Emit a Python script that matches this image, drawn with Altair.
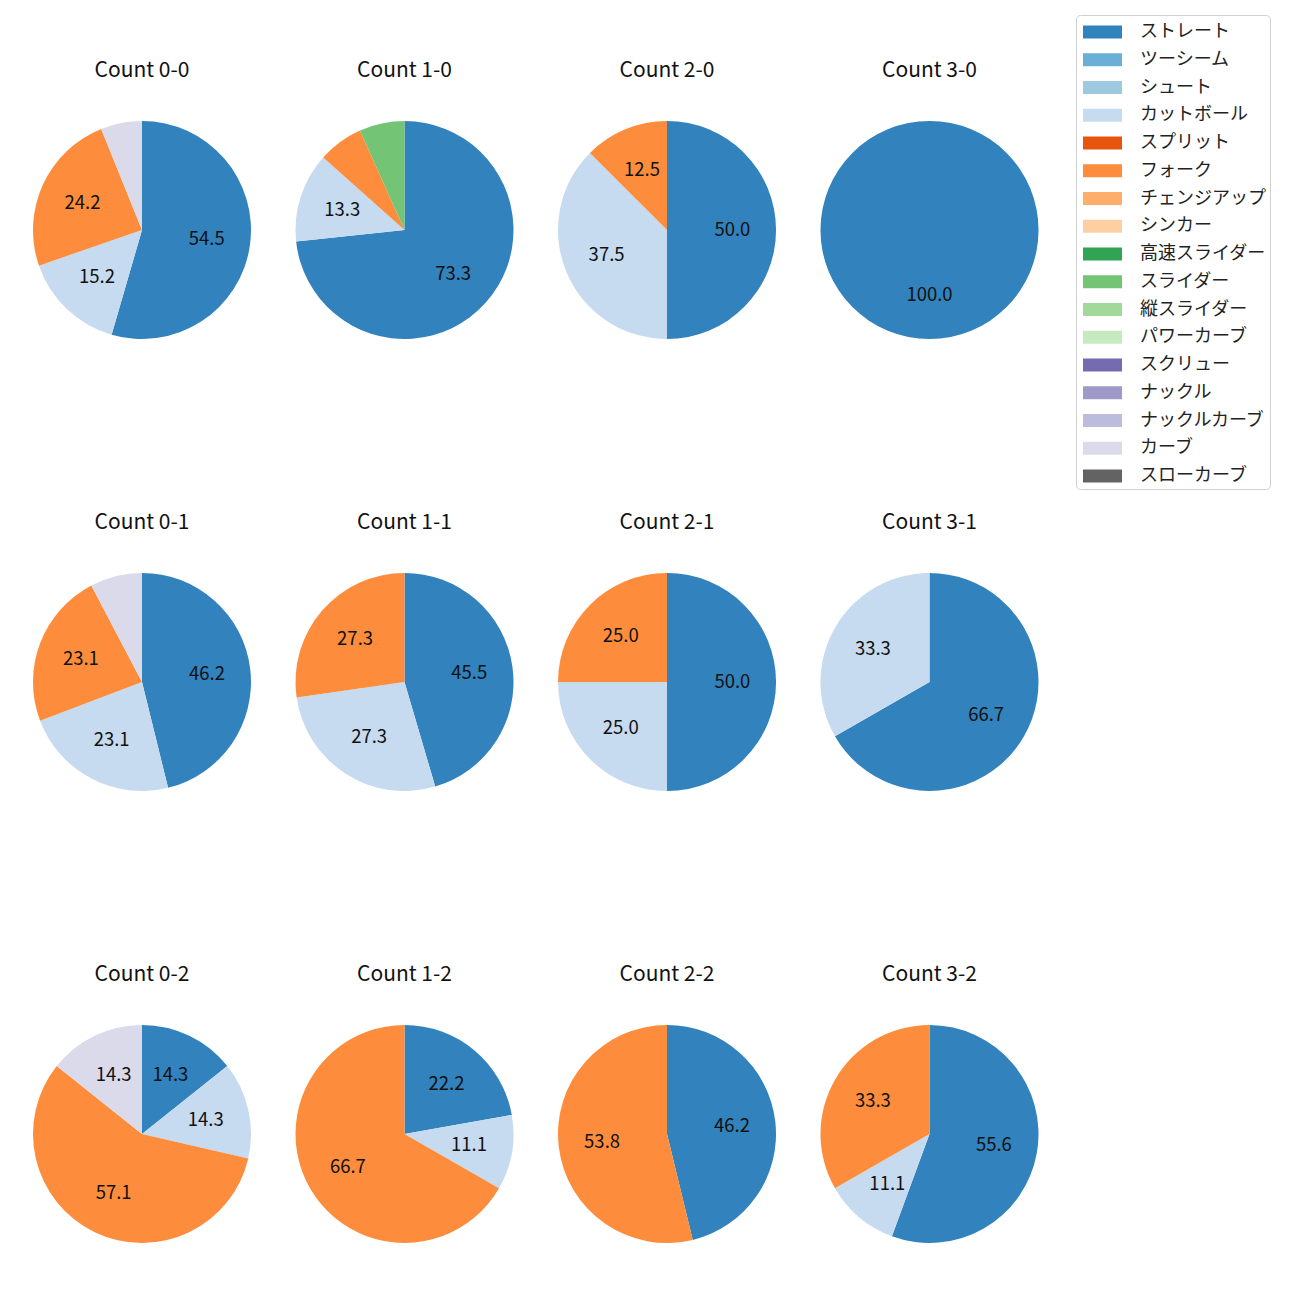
import altair as alt
import pandas as pd

pitch_types = ["ストレート", "ツーシーム", "シュート", "カットボール", "スプリット", "フォーク",
               "チェンジアップ", "シンカー", "高速スライダー", "スライダー", "縦スライダー",
               "パワーカーブ", "スクリュー", "ナックル", "ナックルカーブ", "カーブ", "スローカーブ"]
colors = ["#3182bd", "#6baed6", "#9ecae1", "#c6dbef", "#e6550d", "#fd8d3c", "#fdae6b",
          "#fdd0a2", "#31a354", "#74c476", "#a1d99b", "#c7e9c0", "#756bb1", "#9e9ac8",
          "#bcbddc", "#dadaeb", "#636363"]

counts = ["0-0", "1-0", "2-0", "3-0",
          "0-1", "1-1", "2-1", "3-1",
          "0-2", "1-2", "2-2", "3-2"]

pie_pitches = {
    "0-0": ["ストレート", "カットボール", "フォーク", "カーブ"],
    "1-0": ["ストレート", "カットボール", "フォーク", "スライダー"],
    "2-0": ["ストレート", "カットボール", "フォーク"],
    "3-0": ["ストレート"],
    "0-1": ["ストレート", "カットボール", "フォーク", "カーブ"],
    "1-1": ["ストレート", "カットボール", "フォーク"],
    "2-1": ["ストレート", "カットボール", "フォーク"],
    "3-1": ["ストレート", "カットボール"],
    "0-2": ["ストレート", "カットボール", "フォーク", "カーブ"],
    "1-2": ["ストレート", "カットボール", "フォーク"],
    "2-2": ["ストレート", "フォーク"],
    "3-2": ["ストレート", "カットボール", "フォーク"],
}
pie_values = {
    "0-0": [54.5, 15.2, 24.2, 6.1],
    "1-0": [73.3, 13.3, 6.7, 6.7],
    "2-0": [50.0, 37.5, 12.5],
    "3-0": [100.0],
    "0-1": [46.2, 23.1, 23.1, 7.7],
    "1-1": [45.5, 27.3, 27.3],
    "2-1": [50.0, 25.0, 25.0],
    "3-1": [66.7, 33.3],
    "0-2": [14.3, 14.3, 57.1, 14.3],
    "1-2": [22.2, 11.1, 66.7],
    "2-2": [46.2, 53.8],
    "3-2": [55.6, 11.1, 33.3],
}

FONT = "Noto Sans CJK JP"
R = 109
legend_symbol = "M-1.5,-0.5 L1.5,-0.5 L1.5,0.5 L-1.5,0.5 Z"


def make_pie(c, first):
    df = pd.DataFrame({
        "pitch": pie_pitches[c],
        "pct": pie_values[c],
        "order": [pitch_types.index(p) for p in pie_pitches[c]],
    })
    if first:
        legend = alt.Legend(
            title=None, orient="right", offset=36,
            symbolType=legend_symbol, symbolSize=676, symbolStrokeWidth=0,
            symbolOffset=9.5,
            labelFont=FONT, labelFontSize=18, labelColor="#222222",
            rowPadding=5.75, padding=4, strokeColor="#d0d0d0",
            fillColor="white", cornerRadius=4, labelOffset=24.5,
        )
    else:
        legend = None
    color = alt.Color("pitch:N",
                      scale=alt.Scale(domain=pitch_types, range=colors),
                      legend=legend)
    base = alt.Chart(df).encode(
        theta=alt.Theta("pct:Q", stack=True),
        order=alt.Order("order:Q", sort="ascending"),
    )
    arc = base.mark_arc(outerRadius=R, strokeWidth=0).encode(color=color)
    text = base.transform_calculate(
        label="datum.pct >= 10 ? format(datum.pct, '.1f') : ''"
    ).mark_text(radius=R * 0.6, font=FONT, fontSize=18.5, color="#111111").encode(
        text="label:N"
    )
    return alt.layer(arc, text).properties(
        width=220, height=220,
        title=alt.TitleParams(f"Count {c}", font=FONT, fontSize=21,
                              fontWeight="normal", color="#111111", offset=39),
    )


rows = []
for r in range(3):
    row = [make_pie(counts[r * 4 + k], r == 0 and k == 0) for k in range(4)]
    rows.append(alt.hconcat(*row, spacing=42.5))

grid = alt.vconcat(*rows, spacing=172)

spacer = alt.Chart(pd.DataFrame({"v": [0]})).mark_point(opacity=0).encode(
    x=alt.value(0), y=alt.value(0)
).properties(width=10, height=45)

chart = alt.vconcat(spacer, grid, spacing=0).resolve_scale(color="shared").properties(
    padding={"left": 21, "top": 4, "right": 5, "bottom": 5}
).configure_view(stroke=None)

chart.save("out.html", embed_options={"renderer": "svg", "actions": False})
